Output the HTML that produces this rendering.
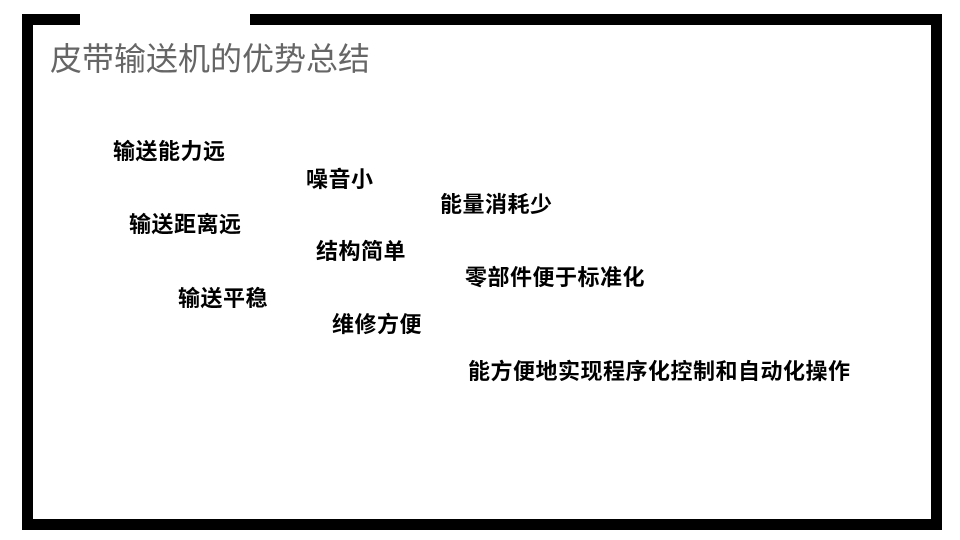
<!DOCTYPE html>
<html><head><meta charset="utf-8"><style>
body{margin:0;width:960px;height:540px;background:#fff;position:relative;overflow:hidden;font-family:"Liberation Sans","Noto Sans CJK SC",sans-serif}
.b{position:absolute;background:#000}
.t{position:absolute;font-size:22px;line-height:22px;font-weight:bold;color:#000;white-space:nowrap;letter-spacing:0.5px}
</style></head><body>
<div class="b" style="left:22px;top:14px;width:58px;height:11px"></div>
<div class="b" style="left:250px;top:14px;width:692px;height:11px"></div>
<div class="b" style="left:22px;top:14px;width:11px;height:516px"></div>
<div class="b" style="left:931px;top:14px;width:11px;height:516px"></div>
<div class="b" style="left:22px;top:519px;width:920px;height:11px"></div>
<div style="position:absolute;left:50px;top:41px;font-size:32px;line-height:36px;color:#666;white-space:nowrap">皮带输送机的优势总结</div>
<div class="t" style="left:113px;top:141px">输送能力远</div>
<div class="t" style="left:306px;top:169px">噪音小</div>
<div class="t" style="left:440px;top:194px">能量消耗少</div>
<div class="t" style="left:129px;top:214px">输送距离远</div>
<div class="t" style="left:316px;top:241px">结构简单</div>
<div class="t" style="left:465px;top:267px">零部件便于标准化</div>
<div class="t" style="left:178px;top:288px">输送平稳</div>
<div class="t" style="left:332px;top:314px">维修方便</div>
<div class="t" style="left:468px;top:361px">能方便地实现程序化控制和自动化操作</div>
</body></html>
